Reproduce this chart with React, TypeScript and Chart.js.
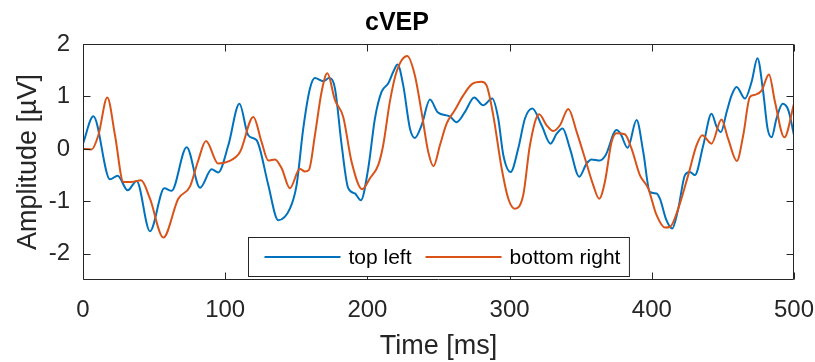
import React, { useEffect, useRef } from "react";
import { Chart, registerables } from "chart.js";

Chart.register(...registerables);

const chartTitle = "cVEP";
const xAxisTitle = "Time [ms]";
const yAxisTitle = "Amplitude [µV]";
const seriesLabels = ["top left", "bottom right"];
const seriesColors = ["#0072BD", "#D95319"];
const xTickValues = [0, 100, 200, 300, 400, 500];
const yTickValues = [-2, -1, 0, 1, 2];

const topLeftTimes = [
  0, 7.3, 19, 24.4, 31.4, 37.7, 47.1, 57.2, 62.3, 72.9, 82.3, 90.5, 95.1, 102.2, 110, 116.2, 122,
  124.4, 130.3, 137.3, 145.5, 150.2, 154.9, 159.6, 163.1, 169, 173, 177.2, 181.9, 186.5, 191.2, 195.4,
  200.6, 205.3, 210, 214.7, 218.2, 221.2, 225.2, 229.9, 233.4, 238.1, 244, 249.4, 257.9, 262.7, 268.5,
  275.1, 281.4, 287.8, 292, 295.6, 300.7, 306.1, 310.8, 316, 322.5, 328.8, 333.1, 337.3, 342.4, 349,
  354.1, 357.6, 363.5, 367.5, 375.2, 378, 383, 389.3, 394, 398.6, 403.3, 405.7, 410.3, 414.3, 418.6,
  423.3, 426.7, 430.3, 436.2, 442, 445.6, 448.6, 452.6, 456.1, 459.6, 465.5, 470.2, 474.3, 478.3,
  481.4, 484.2, 487.7, 492, 496, 500,
];
const topLeftValues = [
  0.1, 0.62, -0.58, -0.51, -0.79, -0.61, -1.57, -0.75, -0.8, 0.03, -0.74, -0.39, -0.45, 0.07, 0.86, 0.26, 0.17,
  0.0, -0.69, -1.36, -1.14, -0.69, 0.39, 1.15, 1.35, 1.29, 1.35, 1.15, 0.07, -0.75, -0.85, -0.98,
  -0.37, 0.58, 1.09, 1.25, 1.47, 1.61, 1.21, 0.39, 0.21, 0.45, 0.94, 0.7, 0.62, 0.51, 0.7,
  0.98, 0.83, 0.96, 0.58, -0.12, -0.44, 0.01, 0.58, 0.77, 0.45, 0.1, 0.29, 0.39, 0.01, -0.53,
  -0.28, -0.2, -0.22, -0.12, 0.36, 0.29, 0.02, 0.55, -0.06, -0.82, -0.85, -0.95, -1.36, -1.52, -1.14,
  -0.5, -0.44, -0.5, 0.07, 0.67, 0.42, 0.32, 0.7, 1.02, 1.18, 0.96, 1.28, 1.73, 1.09,
  0.39, 0.22, 0.58, 0.86, 0.74, 0.26,
];

const bottomRightTimes = [
  0, 6, 10.8, 17.1, 22.5, 28.4, 34.2, 40.8, 47.1, 56.5, 67, 75.2, 80.7, 86.5, 95.1, 102.2, 110.4, 119.8,
  125.6, 130.3, 135, 139.7, 145.5, 152.5, 156, 158.9, 163.1, 167.8, 171.8, 177.2, 183, 188.9, 196.4,
  201.8, 207.6, 211.1, 215.8, 220.5, 228, 233.4, 238.1, 242.8, 246.5, 251, 255.7, 261.5, 267.4, 273.3,
  280.3, 283.8, 288.5, 294.4, 299.1, 303.7, 309.6, 314.3, 320.8, 326, 330.7, 335.4, 341.3, 347.1,
  354.1, 358.8, 363, 367, 371.7, 375.2, 381, 385.7, 391.6, 397.4, 403.3, 409.2, 412.7, 418.6, 425.6,
  431.5, 435.5, 442, 449, 453.7, 459.8, 464.3, 469, 472.6, 477.2, 482.4, 486.6, 493.2, 500,
];
const bottomRightValues = [
  0.0, -0.01, 0.26, 0.98, 0.26, -0.63, -0.63, -0.6, -0.95, -1.69, -0.95, -0.72, -0.25, 0.15, -0.28, -0.24, -0.06, 0.61,
  0.13, -0.22, -0.2, -0.37, -0.75, -0.38, -0.43, -0.4, 0.26, 1.09, 1.44, 0.93, 0.61, -0.25, -0.77,
  -0.56, -0.31, 0.07, 0.9, 1.47, 1.77, 1.4, 0.7, -0.06, -0.33, 0.07, 0.48, 0.74, 1.02, 1.23,
  1.28, 1.21, 0.64, -0.37, -0.95, -1.14, -0.88, 0.07, 0.66, 0.45, 0.34, 0.45, 0.76, 0.33,
  -0.28, -0.69, -0.95, -0.63, 0.13, 0.3, 0.28, 0.01, -0.5, -0.75, -1.26, -1.5, -1.49, -1.14, -0.5,
  0.07, 0.26, 0.1, 0.56, 0.19, -0.23, 0.26, 0.99, 1.03, 1.11, 1.42, 0.9, 0.22, 0.86,
];

const FONT = "'Liberation Sans', Arial, Helvetica, sans-serif";
const AXIS = "#262626";

const matlabBox = {
  id: "matlabBox",
  afterDatasetsDraw(chart: any) {
    const { ctx, chartArea: a, scales } = chart;
    const L = Math.round(a.left) + 0.5;
    const R = Math.round(a.right) - 0.5;
    const T = Math.round(a.top) + 0.5;
    const B = Math.round(a.bottom) - 0.5;
    const tl = 7;
    ctx.save();
    ctx.strokeStyle = AXIS;
    ctx.lineWidth = 1;
    ctx.beginPath();
    ctx.rect(L, T, R - L, B - T);
    xTickValues.forEach((v) => {
      const px = Math.round(scales.x.getPixelForValue(v)) + 0.5;
      ctx.moveTo(px, B);
      ctx.lineTo(px, B - tl);
      ctx.moveTo(px, T);
      ctx.lineTo(px, T + tl);
    });
    yTickValues.forEach((v) => {
      const py = Math.round(scales.y.getPixelForValue(v)) + 0.5;
      ctx.moveTo(L, py);
      ctx.lineTo(L + tl, py);
      ctx.moveTo(R, py);
      ctx.lineTo(R - tl, py);
    });
    ctx.stroke();
    ctx.restore();
  },
  afterDraw(chart: any) {
    const { ctx, chartArea: a } = chart;
    ctx.save();
    ctx.font = `21px ${FONT}`;
    const padL = 16, lineLen = 76, gap = 8, itemGap = 14, padR = 9, h = 39;
    const widths = seriesLabels.map((s) => ctx.measureText(s).width);
    const totalW = padL + padR + widths.reduce((acc, w) => acc + lineLen + gap + w, 0) + itemGap * (seriesLabels.length - 1);
    const cx = (a.left + a.right) / 2;
    const left = Math.round(cx - totalW / 2) + 0.5;
    const bottom = Math.round(a.bottom - 4.5) + 0.5;
    const top = bottom - h;
    ctx.fillStyle = "#ffffff";
    ctx.fillRect(left, top, totalW, h);
    ctx.strokeStyle = AXIS;
    ctx.lineWidth = 1;
    ctx.strokeRect(left, top, totalW, h);
    const midY = top + h / 2;
    let x = left + padL;
    seriesLabels.forEach((label, i) => {
      ctx.strokeStyle = seriesColors[i];
      ctx.lineWidth = 2;
      ctx.beginPath();
      ctx.moveTo(x, midY);
      ctx.lineTo(x + lineLen, midY);
      ctx.stroke();
      x += lineLen + gap;
      ctx.fillStyle = "#000000";
      ctx.textBaseline = "middle";
      ctx.textAlign = "left";
      ctx.fillText(label, x, midY + 1);
      x += widths[i] + itemGap;
    });
    ctx.restore();
  },
};

export default function App() {
  const ref = useRef<HTMLCanvasElement | null>(null);

  useEffect(() => {
    document.body.style.margin = "0";
    const canvas = ref.current;
    if (!canvas) return;
    const chart = new Chart(canvas, {
      type: "line",
      data: {
        datasets: [
          {
            label: seriesLabels[0],
            data: topLeftTimes.map((t, i) => ({ x: t, y: topLeftValues[i] })),
            borderColor: seriesColors[0],
            borderWidth: 2,
            pointRadius: 0,
            cubicInterpolationMode: "monotone",
            order: 1,
          },
          {
            label: seriesLabels[1],
            data: bottomRightTimes.map((t, i) => ({ x: t, y: bottomRightValues[i] })),
            borderColor: seriesColors[1],
            borderWidth: 2,
            pointRadius: 0,
            cubicInterpolationMode: "monotone",
            order: 0,
          },
        ],
      },
      options: {
        responsive: false,
        maintainAspectRatio: false,
        animation: false,
        events: [],
        layout: { padding: { top: 0, left: 0, right: 21, bottom: 0 } },
        plugins: {
          legend: { display: false },
          tooltip: { enabled: false },
          title: {
            display: true,
            text: chartTitle,
            color: "#000000",
            font: { family: FONT, size: 25, weight: "bold", lineHeight: 1.2 },
            padding: { top: 8, bottom: 6 },
          },
        },
        scales: {
          x: {
            type: "linear",
            min: 0,
            max: 500,
            afterBuildTicks: (s: any) => {
              s.ticks = xTickValues.map((v) => ({ value: v }));
            },
            afterFit: (s: any) => {
              s.height = 82;
              s.paddingLeft = 0;
              s.paddingRight = 0;
            },
            grid: { display: false, drawTicks: false },
            border: { display: false },
            ticks: {
              padding: 16,
              color: AXIS,
              maxRotation: 0,
              autoSkip: false,
              font: { family: FONT, size: 24 },
              callback: (v: any) => String(v),
            },
            title: {
              display: true,
              text: xAxisTitle,
              color: AXIS,
              font: { family: FONT, size: 27, lineHeight: 1 },
              padding: { top: 0, bottom: 2 },
            },
          },
          y: {
            type: "linear",
            min: -2.5,
            max: 2,
            afterBuildTicks: (s: any) => {
              s.ticks = yTickValues.map((v) => ({ value: v }));
            },
            afterFit: (s: any) => {
              s.width = 83;
              s.paddingTop = 0;
              s.paddingBottom = 0;
            },
            grid: { display: false, drawTicks: false },
            border: { display: false },
            ticks: {
              padding: 13,
              color: AXIS,
              font: { family: FONT, size: 24 },
              callback: (v: any) => String(v),
            },
            title: {
              display: true,
              text: yAxisTitle,
              color: AXIS,
              font: { family: FONT, size: 27, lineHeight: 1.2 },
              padding: { top: 12, bottom: 0 },
            },
          },
        },
      },
      plugins: [matlabBox],
    });
    return () => chart.destroy();
  }, []);

  return (
    <canvas
      ref={ref}
      width={815}
      height={362}
      style={{ display: "block", width: "815px", height: "362px" }}
    />
  );
}
